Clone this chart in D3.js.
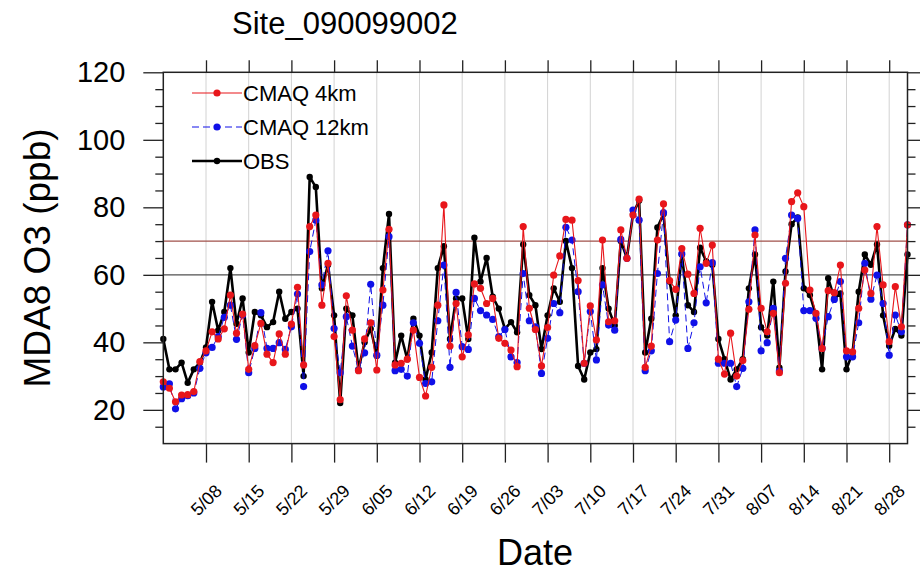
<!DOCTYPE html>
<html>
<head>
<meta charset="utf-8">
<script src="https://cdn.jsdelivr.net/npm/d3@7"></script>
<style>
  html, body { margin: 0; padding: 0; background: #fff; }
  svg { display: block; font-family: "Liberation Sans", Arial, Helvetica, sans-serif; }
</style>
</head>
<body>
<svg id="chart" width="920" height="575"></svg>
<script>
const chartTitle = "Site_090099002";
const startDate = "2011-05-01";
const endDate = "2011-08-31";
const tickLabels = ["5/08","5/15","5/22","5/29","6/05","6/12","6/19","6/26","7/03","7/10","7/17","7/24","7/31","8/07","8/14","8/21","8/28"];
const tickDates = ["2011-05-08","2011-05-15","2011-05-22","2011-05-29","2011-06-05","2011-06-12","2011-06-19","2011-06-26","2011-07-03","2011-07-10","2011-07-17","2011-07-24","2011-07-31","2011-08-07","2011-08-14","2011-08-21","2011-08-28"];
const yTicks = [20, 40, 60, 80, 100, 120];
const refLines = [70, 60];

const obs = [41,32,32,34,28,32,34,38.5,52,43.5,49,62,45.5,53,37,49,48,44.5,46,55,47,49,50,30,89,86,56,63,48,22,50,48,32,40,44,36,62,78,34,42,35,47,42,29,37,62,68.5,41,53,53,41,71,58,65,53.5,50,44,46,43,69,54,51,38,48,56,52,70,62,33,29,37,38,62,50,45,70,65,78,82,37,47,74,78,58,48,66,51,49,68,64,63,41,35,29,32,35,56,66,44.5,42,58,32.5,61,75,77,56,54,48,32,59,53,54.5,32,37,55,66,63,69,48,39,44,42,66];
const cmaq4km = [28.3,26.4,22.4,24.4,24.5,25.4,34.3,37.5,43.1,41,44,54,42.7,48.4,32,39,45.6,36.5,34,42.5,36.5,45.4,56.3,33.3,74.3,77.7,51,63.4,41.7,23,53.8,43.6,31.6,41,45.8,31.8,55.5,73.5,33.3,33.8,35,43.6,29.6,24.1,32.6,51,80.7,38.9,51.5,35.7,42.2,57.3,56,51.5,53,41.2,39.7,37.7,32.8,74.3,50.1,43.8,33,44.4,59.9,65.6,76.4,76.2,58.3,33.8,50.8,40.7,70.3,46.1,46.4,73.3,64.9,77.7,82.4,32.6,38.9,70.3,81,58.3,55.7,67.8,60.2,54.5,73.8,63.4,68.8,35,30.6,42.7,30,34.6,49.8,71.8,50.1,43.1,48.6,31,57.5,81.7,84.3,80.2,55.5,48.6,38.2,55.3,54.7,62.9,37.5,37.2,50.1,61.4,54.5,74.3,57,40.2,56.5,44.6,74.8];
const cmaq12km = [26.8,27.7,20.3,23.3,24.2,25,32.3,36.9,38.5,41.7,47.4,51,40.9,48.1,31,38.2,48.8,38.2,38.2,39.9,37.9,44.6,54.3,26.9,66.9,76.2,57,67.1,44.1,31,47.6,38.9,31.8,36.9,57.2,36.2,51,71.3,31.6,32,30,45.8,39.7,27.8,28.3,46.4,62.9,32.6,54.8,38.7,37.9,53,49.4,48.1,46.8,41.7,43.8,35.7,34,60.4,46.4,44.6,30.8,41.2,51.5,48.8,74.1,70.3,55,33.8,49.1,34.8,57,45.1,43.6,70.5,64.9,79.2,76.2,31.6,37.5,60.4,78.4,40.2,46.6,66.2,38.2,45.8,62.4,51.7,63.6,33.8,33.8,33.8,26.9,32.3,52,73.3,37.5,39.9,50.1,31.5,64.9,77.7,76.7,49.4,49.4,47.1,38.2,47.6,52.7,58,35.7,35.7,45.8,63.4,52.8,59.9,51.5,36.2,48.1,43.1,74.8];

const seriesNames = ["CMAQ 4km", "CMAQ 12km", "OBS"];

const parse = d3.utcParse("%Y-%m-%d");
const dates = d3.utcDay.range(parse(startDate), d3.utcDay.offset(parse(endDate), 1));

const L = 163.3, R = 907.5, T = 72.3, B = 443.6;
const svg = d3.select("#chart");

const x = d3.scaleUtc().domain([parse(startDate), parse(endDate)]).range([L, R]);
const y = d3.scaleLinear().domain([10, 120]).range([B, T]);

// grid lines
svg.append("g").selectAll("line").data(tickDates.map(parse)).join("line")
  .attr("x1", d => x(d)).attr("x2", d => x(d)).attr("y1", T).attr("y2", B)
  .attr("stroke", "#d2d2d2").attr("stroke-width", 1);

// reference lines
const refColors = ["#a0504a", "#505050"];
svg.append("g").selectAll("line").data(refLines).join("line")
  .attr("x1", L).attr("x2", R).attr("y1", d => y(d)).attr("y2", d => y(d))
  .attr("stroke", (d, i) => refColors[i]).attr("stroke-width", 1.2);

// series
const series = [
  { name: "OBS", values: obs, color: "#000000", width: 2.6, dash: null, r: 3.2 },
  { name: "CMAQ 12km", values: cmaq12km, color: "#1010e8", width: 1, dash: "7,4", r: 3.6 },
  { name: "CMAQ 4km", values: cmaq4km, color: "#e8161b", width: 1.1, dash: null, r: 3.6 }
];
const line = d3.line().x((d, i) => x(dates[i])).y(d => y(d));
series.forEach(s => {
  const g = svg.append("g");
  g.append("path").datum(s.values).attr("d", line)
    .attr("fill", "none").attr("stroke", s.color).attr("stroke-width", s.width)
    .attr("stroke-dasharray", s.dash).attr("stroke-linejoin", "round");
  g.selectAll("circle").data(s.values).join("circle")
    .attr("cx", (d, i) => x(dates[i])).attr("cy", d => y(d)).attr("r", s.r)
    .attr("fill", s.color);
});

// axes
const axisColor = "#222";
function styleAxis(g) {
  g.select(".domain").remove();
  g.selectAll("line").attr("stroke", axisColor).attr("stroke-width", 1.3);
}
const minorY = d3.range(10, 121, 5).filter(v => !yTicks.includes(v) && v !== 10);
// left
svg.append("g").attr("transform", `translate(${L},0)`)
  .call(d3.axisLeft(y).tickValues(yTicks).tickSize(20).tickPadding(18).tickFormat(d3.format("d")))
  .call(styleAxis)
  .call(g => g.selectAll("text").attr("font-size", 29).attr("fill", "#000")
      .attr("font-family", "Liberation Sans, Arial, sans-serif"));
svg.append("g").attr("transform", `translate(${L},0)`)
  .call(d3.axisLeft(y).tickValues(minorY).tickSize(8).tickFormat(""))
  .call(styleAxis);
// right
svg.append("g").attr("transform", `translate(${R},0)`)
  .call(d3.axisRight(y).tickValues(yTicks).tickSize(20).tickFormat(""))
  .call(styleAxis);
svg.append("g").attr("transform", `translate(${R},0)`)
  .call(d3.axisRight(y).tickValues(minorY).tickSize(8).tickFormat(""))
  .call(styleAxis);
// top
svg.append("g").attr("transform", `translate(0,${T})`)
  .call(d3.axisTop(x).tickValues(tickDates.map(parse)).tickSize(12).tickFormat(""))
  .call(styleAxis);
// bottom
const bottom = svg.append("g").attr("transform", `translate(0,${B})`)
  .call(d3.axisBottom(x).tickValues(tickDates.map(parse)).tickSize(19).tickFormat((d, i) => tickLabels[i]))
  .call(styleAxis);
bottom.selectAll("text")
  .attr("font-size", 18).attr("fill", "#000")
  .attr("font-family", "Liberation Sans, Arial, sans-serif")
  .attr("text-anchor", "end").attr("y", 0).attr("dy", "0.35em")
  .attr("transform", "translate(12,44) rotate(-45)");

// frame
svg.append("rect").attr("x", L).attr("y", T).attr("width", R - L).attr("height", B - T)
  .attr("fill", "none").attr("stroke", axisColor).attr("stroke-width", 1.5);

// title and labels
svg.append("text").attr("x", 232).attr("y", 34).attr("font-size", 31).attr("fill", "#000")
  .text(chartTitle);
svg.append("text").attr("transform", `translate(50,${(T + B) / 2}) rotate(-90)`)
  .attr("text-anchor", "middle").attr("font-size", 37).attr("fill", "#000")
  .text("MDA8 O3 (ppb)");
svg.append("text").attr("x", 535).attr("y", 565).attr("text-anchor", "middle")
  .attr("font-size", 36).attr("fill", "#000").text("Date");

// legend
const legendItems = [series[2], series[1], series[0]];
const lg = svg.append("g");
legendItems.forEach((s, i) => {
  const yy = 93 + i * 34;
  lg.append("line").attr("x1", 192).attr("x2", 242).attr("y1", yy).attr("y2", yy)
    .attr("stroke", s.color).attr("stroke-width", s.width).attr("stroke-dasharray", s.dash);
  lg.append("circle").attr("cx", 217).attr("cy", yy).attr("r", s.r).attr("fill", s.color);
  lg.append("text").attr("x", 243).attr("y", yy).attr("dy", "0.36em").attr("font-size", 22)
    .attr("fill", "#000").text(seriesNames[i]);
});
</script>
</body>
</html>
